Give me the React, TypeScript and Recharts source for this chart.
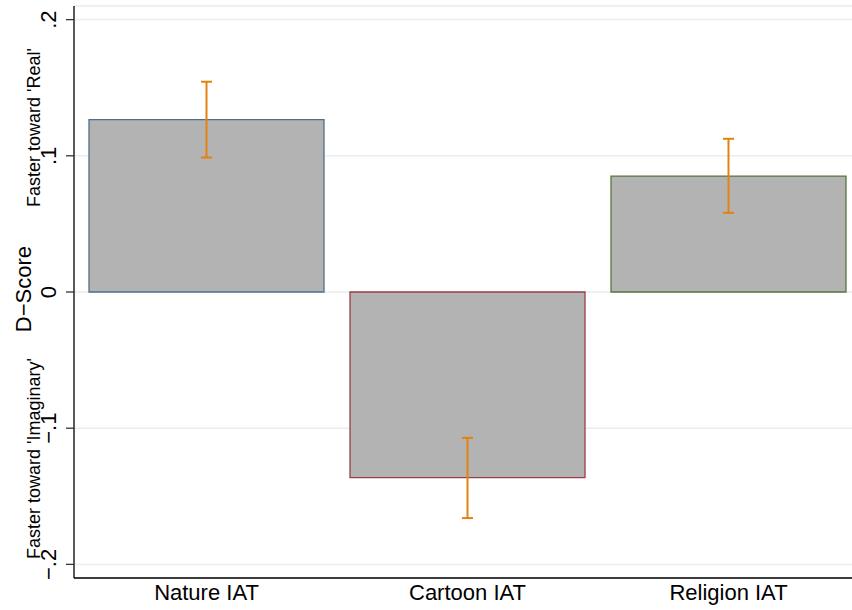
import React from "react";
import { BarChart, Bar, XAxis, YAxis, CartesianGrid, ErrorBar, Cell } from "recharts";

const categories = ["Nature IAT", "Cartoon IAT", "Religion IAT"];
const means = [0.1265, -0.1363, 0.0851];
const ciLow = [0.0988, -0.166, 0.0581];
const ciHigh = [0.1544, -0.1071, 0.1125];
const yTicks = [-0.2, -0.1, 0, 0.1, 0.2];
const yTickLabels = ["\u2212.2", "\u2212.1", "0", ".1", ".2"];
const barStrokes = ["#4f6f8c", "#9a3f47", "#55783a"];

const data = categories.map((c, i) => ({
  name: c,
  value: means[i],
  err: [means[i] - ciLow[i], ciHigh[i] - means[i]],
}));

const FONT = "'Liberation Sans', Arial, Helvetica, sans-serif";

const YTick = (props: any) => {
  const { x, y, payload } = props;
  const idx = yTicks.indexOf(payload.value);
  const label = idx >= 0 ? yTickLabels[idx] : String(payload.value);
  const bx = x - 10;
  return (
    <text
      x={bx}
      y={y}
      transform={`rotate(-90, ${bx}, ${y})`}
      textAnchor="middle"
      fontSize={22}
      fontFamily={FONT}
      fill="#000"
    >
      {label}
    </text>
  );
};

const XTick = (props: any) => {
  const { x, y, payload } = props;
  return (
    <text x={x} y={y + 22} textAnchor="middle" fontSize={22} fontFamily={FONT} fill="#000">
      {payload.value}
    </text>
  );
};

const YLabel = (props: any) => {
  const vb = props.viewBox || { x: 0, y: 6, width: 74, height: 572 };
  const top = vb.y;
  const h = vb.height;
  const items = [
    { text: "D\u2212Score", x: 31.5, cy: top + h * 0.4948, size: 22 },
    { text: "Faster toward 'Real'", x: 40, cy: top + h * 0.2124, size: 18 },
    { text: "Faster toward 'Imaginary'", x: 40, cy: top + h * 0.7911, size: 18 },
  ];
  return (
    <g>
      {items.map((it, i) => (
        <text
          key={i}
          x={vb.x + it.x}
          y={it.cy}
          transform={`rotate(-90, ${vb.x + it.x}, ${it.cy})`}
          textAnchor="middle"
          fontSize={it.size}
          fontFamily={FONT}
          fill="#000"
        >
          {it.text}
        </text>
      ))}
    </g>
  );
};

export default function App() {
  return (
    <div
      style={{
        position: "absolute",
        left: 0,
        top: 0,
        width: 852,
        height: 610,
        overflow: "hidden",
        background: "#fff",
      }}
    >
      <BarChart
        width={860}
        height={610}
        data={data}
        margin={{ top: 6, right: 0, bottom: 0, left: 0 }}
        barCategoryGap={13}
      >
        <CartesianGrid vertical={false} stroke="#e6eef1" strokeWidth={1.5} />
        <XAxis
          dataKey="name"
          height={32}
          padding={{ left: 2, right: 1 }}
          axisLine={{ stroke: "#000", strokeWidth: 1.3 }}
          tickLine={false}
          tickSize={0}
          tickMargin={0}
          tick={<XTick />}
          interval={0}
        />
        <YAxis
          width={74}
          domain={[-0.21, 0.21]}
          ticks={yTicks}
          allowDataOverflow
          axisLine={{ stroke: "#000", strokeWidth: 1.3 }}
          tickLine={{ stroke: "#333", strokeWidth: 1.3 }}
          tickSize={8}
          tickMargin={0}
          tick={<YTick />}
          label={<YLabel />}
        />
        <Bar dataKey="value" fill="#b3b3b3" strokeWidth={1.3} isAnimationActive={false}>
          {data.map((d, i) => (
            <Cell key={d.name} fill="#b3b3b3" stroke={barStrokes[i]} />
          ))}
          <ErrorBar dataKey="err" width={5.5} stroke="#e3820f" strokeWidth={2} direction="y" />
        </Bar>
      </BarChart>
    </div>
  );
}
